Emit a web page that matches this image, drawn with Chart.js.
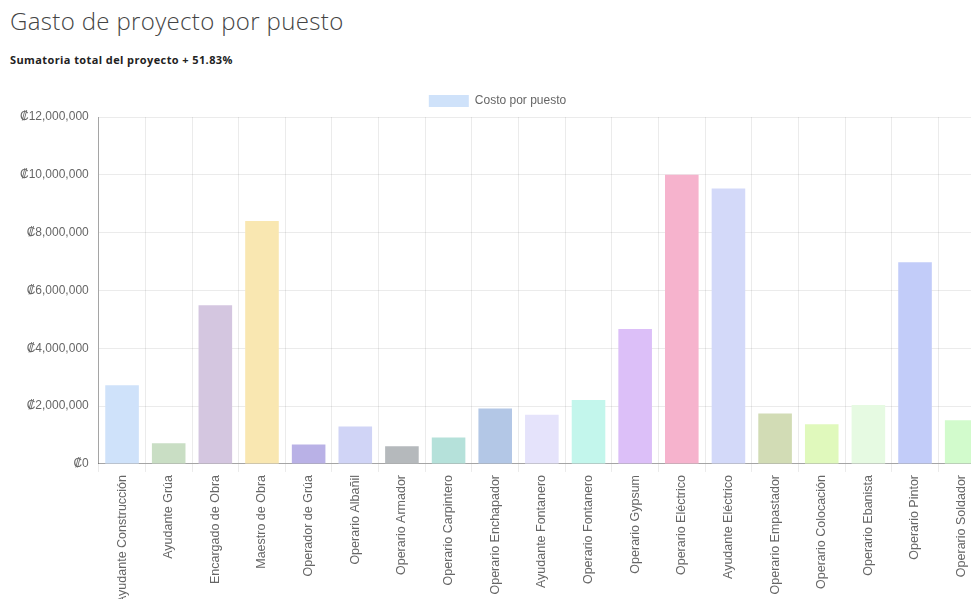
<!DOCTYPE html>
<html lang="es">
<head>
<meta charset="utf-8">
<title>Gasto de proyecto por puesto</title>
<script src="https://cdn.jsdelivr.net/npm/chart.js@4.4.1/dist/chart.umd.min.js"></script>
<style>
  html, body { margin: 0; padding: 0; background: #fff; overflow: hidden; }
  body { width: 971px; height: 599px; position: relative; }
  h1 {
    position: absolute; left: 10px; top: 4px; margin: 0;
    font-family: "Open Sans", sans-serif; font-weight: 300;
    font-size: 24px; color: #444; letter-spacing: 0.35px;
  }
  h6 {
    position: absolute; left: 10px; top: 52px; margin: 0;
    font-family: "Open Sans", sans-serif; font-weight: 700;
    font-size: 11px; color: #222; letter-spacing: 0.4px;
  }
  .chart-box { position: absolute; left: 10px; top: 85px; width: 975px; height: 522px; }
</style>
</head>
<body>
<h1>Gasto de proyecto por puesto</h1>
<h6>Sumatoria total del proyecto + 51.83%</h6>
<div class="chart-box"><canvas id="barChart"></canvas></div>
<script>
// Puestos y costo total de cada uno
const puestos = [
  "Ayudante Construcción", "Ayudante Grúa", "Encargado de Obra", "Maestro de Obra",
  "Operador de Grúa", "Operario Albañil", "Operario Armador", "Operario Carpintero",
  "Operario Enchapador", "Ayudante Fontanero", "Operario Fontanero", "Operario Gypsum",
  "Operario Eléctrico", "Ayudante Eléctrico", "Operario Empastador", "Operario Colocación",
  "Operario Ebanista", "Operario Pintor", "Operario Soldador"
];
const costos = [
  2720000, 720000, 5490000, 8400000,
  670000, 1300000, 610000, 920000,
  1920000, 1700000, 2210000, 4670000,
  10000000, 9530000, 1750000, 1370000,
  2040000, 6980000, 1510000
];
const colores = [
  "#cfe2fa", "#c9dec4", "#d4c6e0", "#f9e7b1",
  "#b9b1e6", "#d0d4f6", "#b5b9bc", "#b5e1da",
  "#b3c7e6", "#e5e3fb", "#c3f6ec", "#dcbff8",
  "#f6b3cd", "#d3d9f9", "#d2dcb5", "#e0f9bc",
  "#e6fae2", "#c2ccf9", "#d2fbcc"
];

const fmt = new Intl.NumberFormat('en-US');

const ctx = document.getElementById('barChart').getContext('2d');
const chart = new Chart(ctx, {
  type: 'bar',
  data: {
    labels: puestos,
    datasets: [{
      label: 'Costo por puesto',
      data: costos,
      backgroundColor: colores,
      borderWidth: 0
    }]
  },
  options: {
    responsive: true,
    maintainAspectRatio: false,
    animation: false,
    layout: { padding: 0 },
    plugins: {
      legend: {
        position: 'top',
        labels: {
          boxWidth: 40,
          boxHeight: 12,
          color: '#666',
          font: { family: 'Liberation Sans', size: 12 }
        }
      },
      tooltip: { enabled: false }
    },
    scales: {
      x: {
        grid: { color: 'rgba(0,0,0,0.08)', tickLength: 8 },
        border: { color: 'rgba(0,0,0,0.3)' },
        ticks: {
          color: '#666',
          font: { family: 'Liberation Sans', size: 12.5 },
          minRotation: 90,
          maxRotation: 90,
          autoSkip: false
        }
      },
      y: {
        min: 0,
        max: 12000000,
        grid: { color: 'rgba(0,0,0,0.08)', drawTicks: false },
        border: { color: 'rgba(0,0,0,0.3)' },
        ticks: {
          stepSize: 2000000,
          padding: 10,
          color: '#666',
          font: { family: 'Liberation Sans', size: 12 },
          callback: v => '₡' + fmt.format(v)
        }
      }
    }
  }
});
</script>
</body>
</html>
